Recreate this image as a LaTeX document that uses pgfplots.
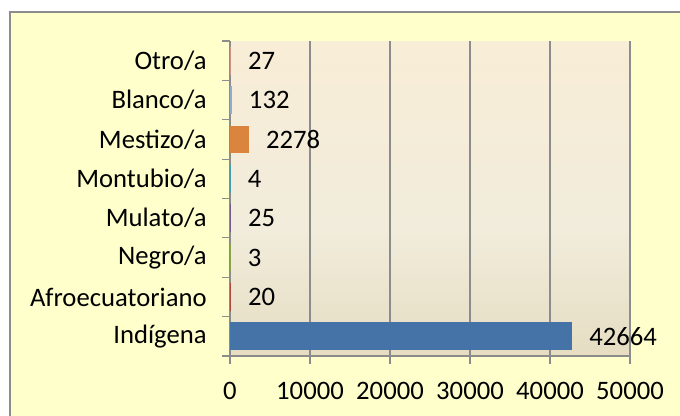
\documentclass[border=0pt]{standalone}
\usepackage{pgfplots}
\pgfplotsset{compat=1.18}
\usepackage{fontspec}
\setmainfont{Carlito}
\definecolor{framefill}{RGB}{255,255,204}
\definecolor{framegray}{RGB}{140,140,140}
\definecolor{gridgray}{RGB}{140,140,140}
\definecolor{bgtop}{RGB}{254,238,211}
\definecolor{bgmid}{RGB}{241,236,219}
\definecolor{bgbot}{RGB}{215,202,163}
\pgfdeclareverticalshading{bgshade}{100bp}{color(0bp)=(bgbot); color(45bp)=(bgmid); color(100bp)=(bgtop)}
\definecolor{cInd}{RGB}{69,114,167}
\definecolor{cAfro}{RGB}{170,70,67}
\definecolor{cNeg}{RGB}{137,165,78}
\definecolor{cMul}{RGB}{113,88,143}
\definecolor{cMon}{RGB}{65,152,175}
\definecolor{cMes}{RGB}{219,132,61}
\definecolor{cBla}{RGB}{147,169,207}
\definecolor{cOtr}{RGB}{209,147,146}
\begin{document}
\begin{tikzpicture}
\useasboundingbox (0,0) rectangle (510pt,312pt);
\fill[white] (0,0) rectangle (510pt,312pt);
\fill[framefill] (7.5pt,0) rectangle (510pt,303pt);
\draw[framegray, line width=1.5pt] (7.5pt,0) -- (7.5pt,303pt) -- (510pt,303pt);
\begin{axis}[
  at={(172.5pt,45pt)}, anchor=south west,
  scale only axis, width=300pt, height=236.25pt,
  xbar, bar width=19.5pt,
  xmin=0, xmax=50000, ymin=-0.5, ymax=7.5,
  axis x line*=bottom, axis y line*=left,
  axis line style={-, draw=gridgray, line width=0.9pt},
  axis background/.style={shading=bgshade},
  xtick={0,10000,20000,30000,40000,50000},
  scaled x ticks=false,
  xmajorgrids, major grid style={draw=gridgray, line width=0.9pt},
  tick align=outside, major tick length=6pt,
  tick style={draw=gridgray, line width=0.9pt},
  ytick={-0.5,0.5,...,7.5}, yticklabels={},
  extra y ticks={0,1,2,3,4,5,6,7},
  extra y tick labels={Indígena,Afroecuatoriano,Negro/a,Mulato/a,Montubio/a,Mestizo/a,Blanco/a,Otro/a},
  extra y tick style={major tick length=0pt, yticklabel style={xshift=-14pt}},
  /pgf/number format/.cd, fixed, precision=0, 1000 sep={}, assume math mode=true,
  /pgfplots/.cd,
  tick label style={font=\fontsize{20}{24}\selectfont, text=black},
  xticklabel style={yshift=-10pt},
  nodes near coords,
  nodes near coords style={anchor=west, inner sep=0pt, xshift=12.75pt, font=\fontsize{20}{24}\selectfont, text=black},
  every axis plot/.append style={bar shift=0pt, line width=1.4pt},
]
\addplot[fill=cInd, draw=cInd] coordinates {(42664,0)};
\addplot[fill=cAfro, draw=cAfro] coordinates {(20,1)};
\addplot[fill=cNeg, draw=cNeg] coordinates {(3,2)};
\addplot[fill=cMul, draw=cMul] coordinates {(25,3)};
\addplot[fill=cMon, draw=cMon] coordinates {(4,4)};
\addplot[fill=cMes, draw=cMes] coordinates {(2278,5)};
\addplot[fill=cBla, draw=cBla] coordinates {(132,6)};
\addplot[fill=cOtr, draw=cOtr] coordinates {(27,7)};
\end{axis}
\end{tikzpicture}
\end{document}
